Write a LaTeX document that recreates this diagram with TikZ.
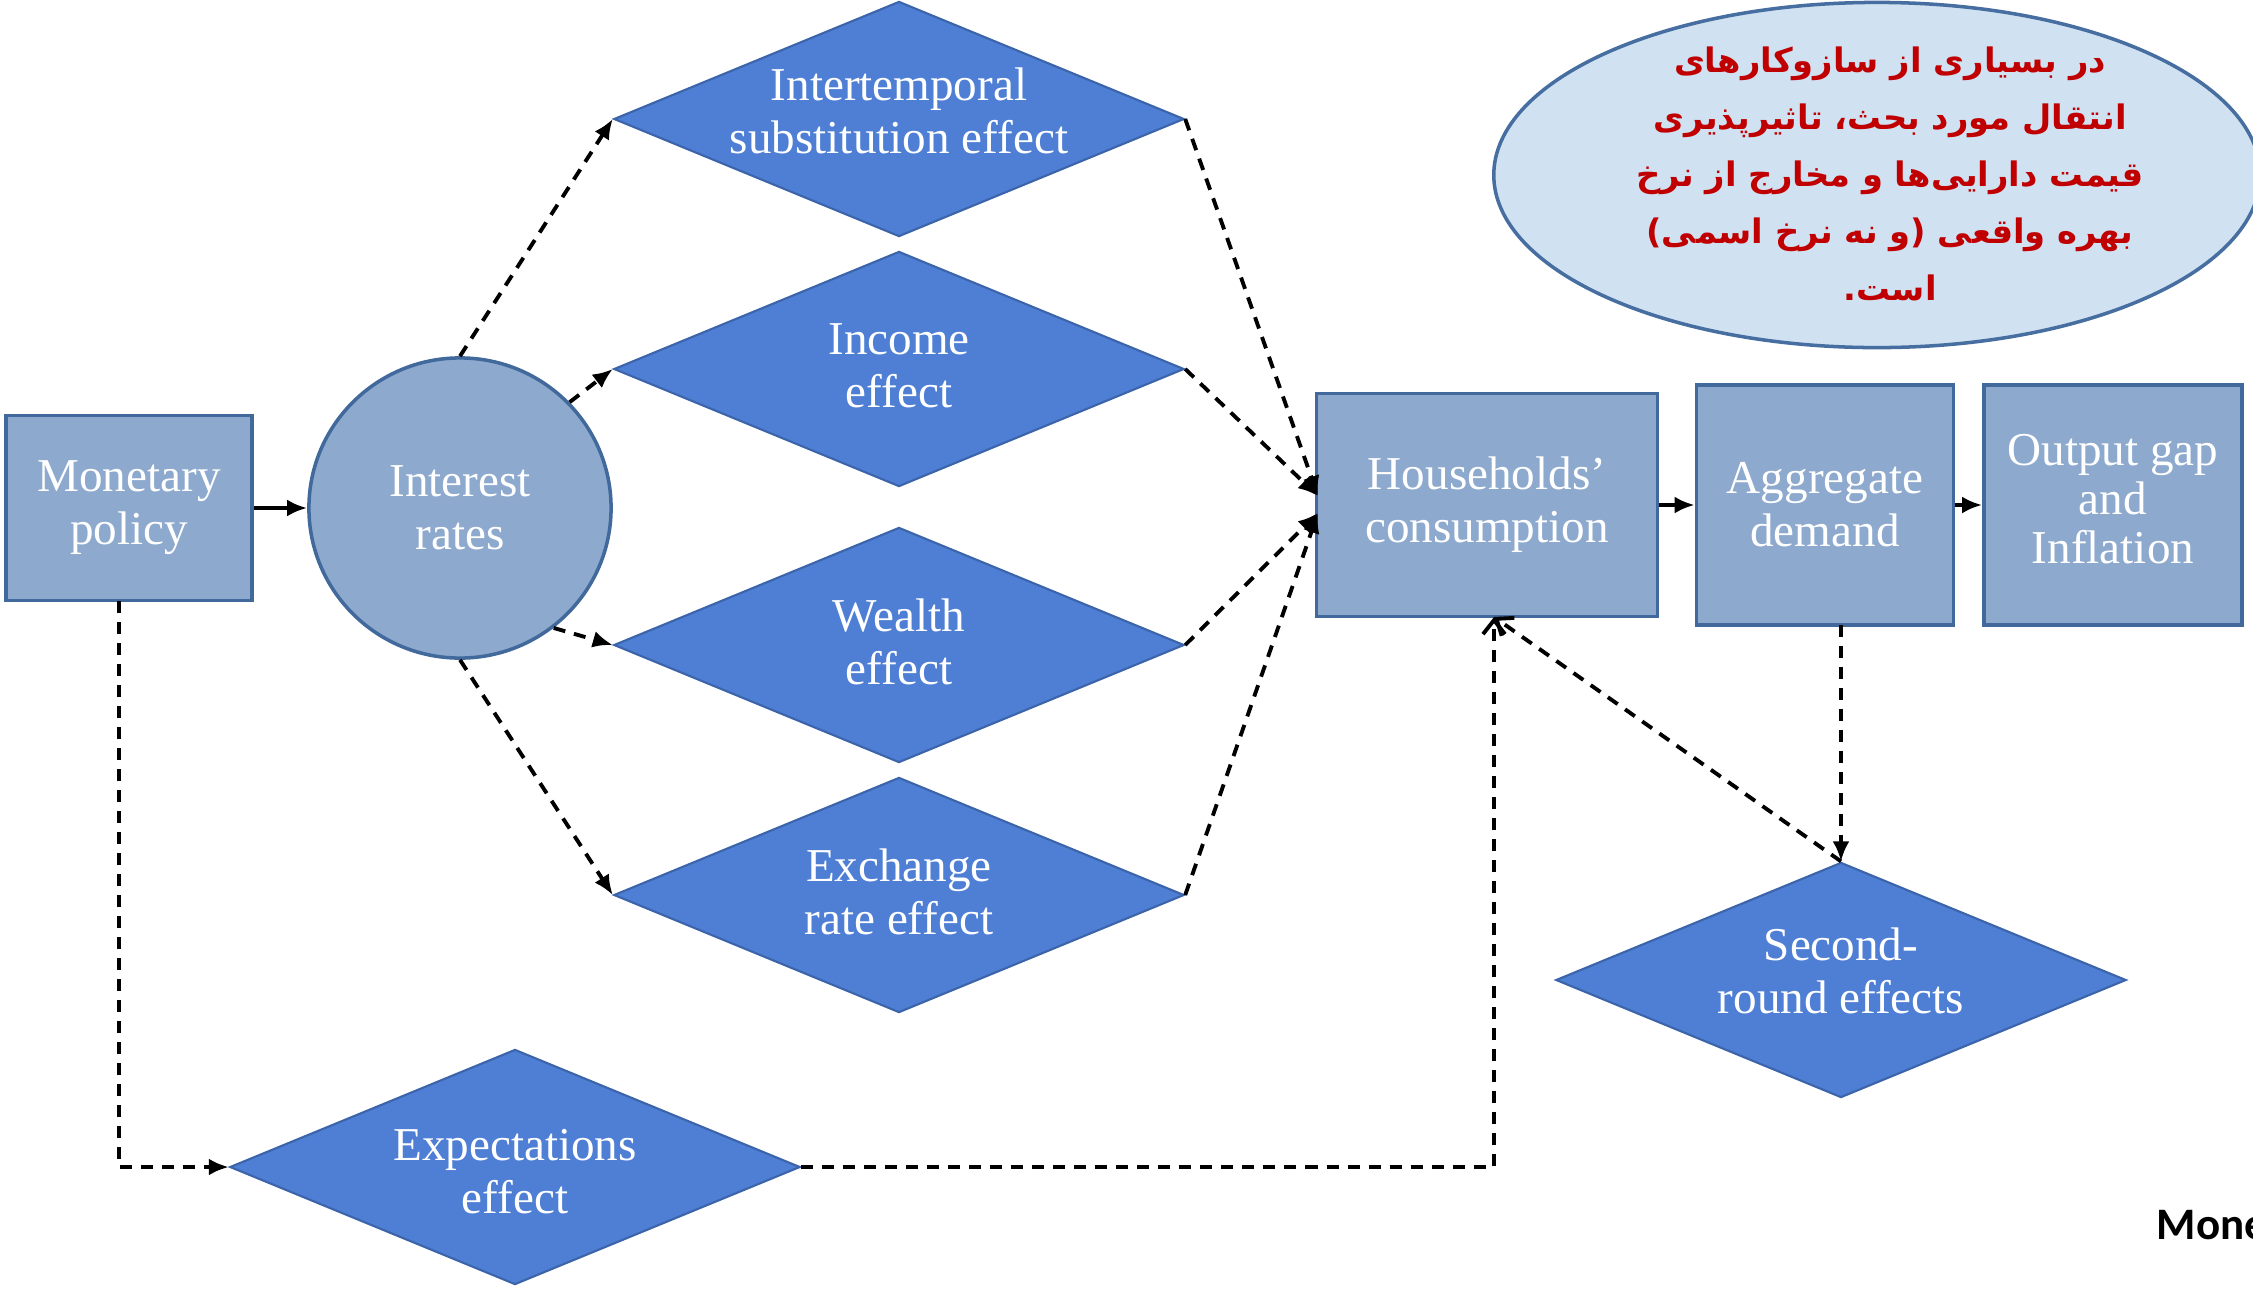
\documentclass[tikz,border=0pt]{standalone}
\usepackage{fontspec}
\setmainfont{Liberation Serif}
\newfontfamily\arabicfont[Script=Arabic]{DejaVu Sans}
\newfontfamily\calibfont{Carlito}
\TeXXeTstate=1
\usetikzlibrary{shapes.geometric,arrows.meta}
\definecolor{boxfill}{RGB}{141,169,206}
\definecolor{boxdraw}{RGB}{65,105,156}
\definecolor{dmfill}{RGB}{78,127,213}
\definecolor{dmdraw}{RGB}{60,100,170}
\definecolor{ellfill}{RGB}{208,225,242}
\definecolor{elldraw}{RGB}{70,110,160}
\definecolor{redtxt}{RGB}{192,0,0}
\tikzset{
  lbl/.style={text=white, align=center, font=\fontsize{13.4pt}{15.1pt}\selectfont},
  box/.style={lbl, rectangle, fill=boxfill, draw=boxdraw, line width=1pt, inner sep=0pt},
  dmd/.style={diamond, fill=dmfill, draw=dmdraw, line width=0.6pt, inner sep=0pt,
    minimum width=5.7cm, minimum height=2.35cm},
  dasharrow/.style={draw=black, line width=1.1pt, dash pattern=on 0.12cm off 0.09cm,
    -{Latex[length=0.2cm,width=0.17cm]}},
  openarrow/.style={draw=black, line width=1.1pt, dash pattern=on 0.12cm off 0.09cm,
    -{Straight Barb[length=0.14cm,width=0.22cm]}},
  solidarrow/.style={draw=black, line width=1.2pt, -{Latex[length=0.2cm,width=0.17cm]}}
}
\begin{document}
\begin{tikzpicture}[x=0.01cm,y=-0.01cm]
\useasboundingbox (0,0) rectangle (2253,1290);
\clip (0,0) rectangle (2253,1290);
\fill[white] (0,0) rectangle (2253,1290);

% callout ellipse
\node[ellipse, fill=ellfill, draw=elldraw, line width=1pt, minimum width=7.66cm, minimum height=3.45cm, inner sep=0pt] (note) at (1877,175) {};
\node[text=redtxt, align=center, font=\arabicfont\bfseries\fontsize{9.6pt}{16.2pt}\selectfont] (notetext) at (1890,174)
{\beginR در بسیاری از سازوکارهای\endR\\
 \beginR انتقال مورد بحث، تاثیرپذیری\endR\\
 \beginR قیمت دارایی‌ها و مخارج از نرخ\endR\\
 \beginR بهره واقعی (و نه نرخ اسمی)\endR\\
 \beginR است.\endR};

% boxes
\node[box, minimum width=2.46cm, minimum height=1.85cm] (mp) at (129,508) {Monetary\\policy};
\node[lbl, ellipse, fill=boxfill, draw=boxdraw, line width=1pt, minimum width=3.02cm, minimum height=3.0cm, inner sep=0pt] (ir) at (460,508) {Interest\\rates};
\node[box, minimum width=3.41cm, minimum height=2.23cm] (hc) at (1487,505) {Households’\\consumption};
\node[box, minimum width=2.57cm, minimum height=2.4cm] (ad) at (1825,505) {Aggregate\\demand};
\node[box, minimum width=2.58cm, minimum height=2.4cm] (og) at (2113,505) {};
\node[lbl, font=\fontsize{13.4pt}{14pt}\selectfont] (ogtext) at (2113,499) {Output gap\\and\\Inflation};

% diamonds
\node[dmd] (inter) at (899,119) {};
\node[lbl] (intertext) at (899,111) {Intertemporal\\substitution effect};
\node[dmd] (inc) at (899,369) {};
\node[lbl] (inctext) at (899,366) {Income\\effect};
\node[dmd] (wea) at (899,645) {};
\node[lbl] (weatext) at (899,642) {Wealth\\effect};
\node[dmd] (exc) at (899,895) {};
\node[lbl] (exctext) at (899,892) {Exchange\\rate effect};
\node[dmd] (exp) at (515,1167) {};
\node[lbl] (exptext) at (515,1172) {Expectations\\effect};
\node[dmd] (sec) at (1841,980) {};
\node[lbl] (sectext) at (1841,971) {Second-\\round effects};

% helper coordinates
\coordinate (hcu) at (1318,496);
\coordinate (hcl) at (1318,513);
\coordinate (hcb) at (1494,617);
\coordinate (mpb) at (119,601);
\coordinate (adb) at (1841,625);

% connectors
\draw[solidarrow] (mp.east) -- (ir.west);
\draw[solidarrow] (hc.east) -- (ad.west);
\draw[solidarrow] (ad.east) -- (og.west);

\draw[dasharrow] (ir.north) -- (inter.west);
\draw[dasharrow] (ir.44) -- (inc.west);
\draw[dasharrow] (ir.-52) -- (wea.west);
\draw[dasharrow] (ir.south) -- (exc.west);

\draw[dasharrow] (inter.east) -- (hcu);
\draw[dasharrow] (inc.east) -- (hcu);
\draw[dasharrow] (wea.east) -- (hcl);
\draw[dasharrow] (exc.east) -- (hcl);

\draw[dasharrow] (mpb) |- (exp.west);
\draw[openarrow] (exp.east) -| (hcb);
\draw[openarrow] (sec.north) -- (hcb);
\draw[dasharrow] (adb) -- (sec.north);

% clipped caption text
\node[anchor=base west, inner sep=0pt, font=\calibfont\bfseries\fontsize{12.8pt}{14pt}\selectfont] (mone) at (2156,1239) {Mone};
\end{tikzpicture}
\end{document}
